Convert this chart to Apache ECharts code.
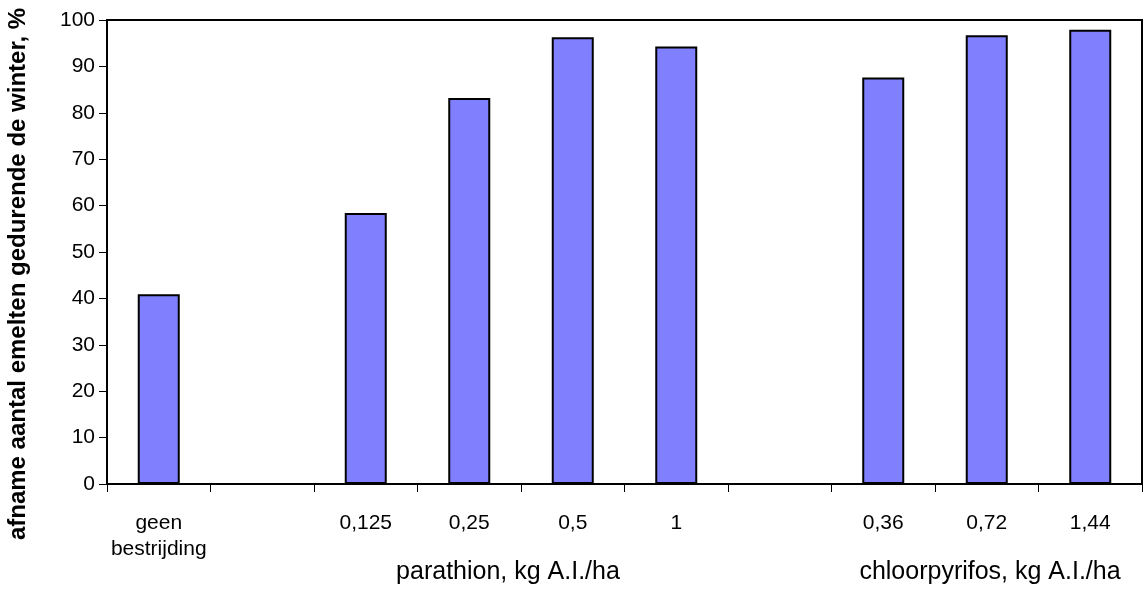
<!DOCTYPE html>
<html>
<head>
<meta charset="utf-8">
<script src="https://cdn.jsdelivr.net/npm/echarts@6/dist/echarts.min.js"></script>
<style>
  html, body { margin: 0; padding: 0; background: #fff; }
  #chart { width: 1145px; height: 589px; }
</style>
</head>
<body>
<div id="chart"></div>
<script>
// categories (empty slots are the gaps between groups)
var categories = ["geen\nbestrijding", "", "0,125", "0,25", "0,5", "1", "", "0,36", "0,72", "1,44"];
var afname = [40.9, null, 58.4, 83.2, 96.3, 94.3, null, 87.6, 96.7, 97.9];
var groupLabels = ["parathion, kg A.I./ha", "chloorpyrifos, kg A.I./ha"];
var yTitle = "afname aantal emelten gedurende de winter, %";

var font = "'Liberation Sans', Arial, sans-serif";

var chart = echarts.init(document.getElementById("chart"));
chart.setOption({
  animation: false,
  grid: {
    left: 107,
    right: 3,
    top: 20,
    bottom: 105,
    show: true,
    borderColor: "#000",
    borderWidth: 2,
    backgroundColor: "#fff"
  },
  xAxis: {
    type: "category",
    data: categories,
    axisLine: { lineStyle: { color: "#000", width: 2 } },
    axisTick: { show: true, length: 8, lineStyle: { color: "#000", width: 1 } },
    axisLabel: {
      color: "#000",
      fontSize: 21,
      fontFamily: font,
      margin: 26,
      lineHeight: 26,
      interval: 0
    },
    splitLine: { show: false }
  },
  yAxis: {
    type: "value",
    min: 0,
    max: 100,
    interval: 10,
    axisLine: { show: true, lineStyle: { color: "#000", width: 2 } },
    axisTick: { show: true, length: 8, lineStyle: { color: "#000", width: 1 } },
    axisLabel: { color: "#000", fontSize: 21, fontFamily: font, margin: 12 },
    splitLine: { show: false }
  },
  graphic: [
    {
      type: "text",
      x: 18, y: 274,
      rotation: Math.PI / 2,
      style: {
        text: yTitle, fill: "#000", font: "bold 24px " + font,
        textAlign: "center", textVerticalAlign: "middle"
      }
    },
    {
      type: "text",
      x: 508, y: 572,
      style: {
        text: groupLabels[0], fill: "#000", font: "25px " + font,
        textAlign: "center", textVerticalAlign: "middle"
      }
    },
    {
      type: "text",
      x: 990, y: 572,
      style: {
        text: groupLabels[1], fill: "#000", font: "25px " + font,
        textAlign: "center", textVerticalAlign: "middle"
      }
    }
  ],
  series: [
    {
      type: "bar",
      data: afname,
      barWidth: 42,
      itemStyle: { color: "#8080ff", borderColor: "#000", borderWidth: 2 }
    }
  ]
});
</script>
</body>
</html>
